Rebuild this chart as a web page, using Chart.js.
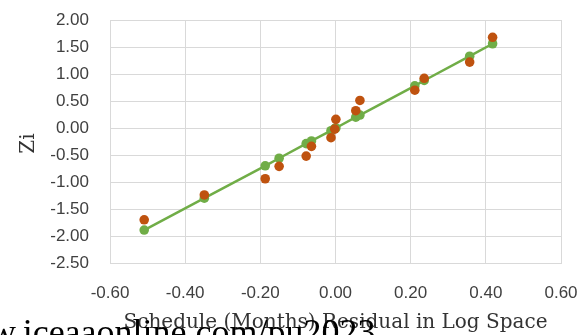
<!DOCTYPE html>
<html>
<head>
<meta charset="utf-8">
<script src="https://cdn.jsdelivr.net/npm/chart.js@4"></script>
<style>
  html, body { margin: 0; padding: 0; background: #ffffff; }
  #wrap { position: relative; width: 581px; height: 335px; overflow: hidden; }
  canvas { display: block; }
</style>
</head>
<body>
<div id="wrap"><canvas id="c" width="581" height="335"></canvas></div>
<script>
// Schedule (Months) residuals in log space (x), shared by both series
const residuals = [-0.509, -0.349, -0.187, -0.150, -0.078, -0.064, -0.012, -0.002, 0.001, 0.054, 0.065, 0.211, 0.236, 0.357, 0.418];
// Observed Zi (orange markers)
const observedZi = [-1.70, -1.24, -0.94, -0.71, -0.52, -0.34, -0.18, -0.02, 0.16, 0.32, 0.51, 0.70, 0.92, 1.22, 1.68];
// Fitted Zi (green line with markers)
const fittedZi = [-1.89, -1.30, -0.70, -0.56, -0.29, -0.24, -0.05, -0.01, 0.00, 0.20, 0.24, 0.78, 0.88, 1.33, 1.56];
// Axis ticks
const xTicks = [-0.60, -0.40, -0.20, 0.00, 0.20, 0.40, 0.60];
const yTicks = [-2.50, -2.00, -1.50, -1.00, -0.50, 0.00, 0.50, 1.00, 1.50, 2.00];
const xTitle = 'Schedule (Months) Residual in Log Space';
const yTitle = 'Zi';
const watermark = 'www.iceaaonline.com/pu2023';

const toPts = (xs, ys) => xs.map((x, i) => ({x: x, y: ys[i]}));

const textPlugin = {
  id: 'texts',
  afterDraw(chart) {
    const ctx = chart.ctx;
    const a = chart.chartArea;
    ctx.save();
    ctx.fillStyle = '#333333';
    ctx.font = '20px "DejaVu Serif"';
    ctx.textAlign = 'center';
    ctx.textBaseline = 'alphabetic';
    ctx.fillText(xTitle, (a.left + a.right) / 2, 328);
    ctx.translate(34, (a.top + a.bottom) / 2 + 2);
    ctx.rotate(-Math.PI / 2);
    ctx.fillText(yTitle, 0, 0);
    ctx.restore();
    ctx.save();
    ctx.fillStyle = '#000000';
    ctx.font = '36px "Liberation Serif"';
    ctx.textAlign = 'left';
    ctx.textBaseline = 'alphabetic';
    ctx.fillText(watermark, -62, 344);
    ctx.restore();
  }
};

const fmt = v => (Math.abs(v) < 1e-9 ? 0 : v).toFixed(2);

new Chart(document.getElementById('c'), {
  type: 'scatter',
  data: {
    datasets: [
      {
        label: 'Observed',
        data: toPts(residuals, observedZi),
        backgroundColor: '#BF520F',
        borderColor: '#BF520F',
        pointRadius: 4.8,
        pointBorderWidth: 0,
        showLine: false,
        order: 0
      },
      {
        label: 'Fitted',
        data: toPts(residuals, fittedZi),
        backgroundColor: '#70AD47',
        borderColor: '#70AD47',
        pointBackgroundColor: '#70AD47',
        pointBorderColor: '#70AD47',
        pointRadius: 4.8,
        pointBorderWidth: 0,
        borderWidth: 2.5,
        showLine: true,
        order: 1
      }
    ]
  },
  options: {
    responsive: false,
    animation: false,
    devicePixelRatio: 1,
    layout: { padding: { left: 0, right: 20, top: 20, bottom: 0 } },
    plugins: { legend: { display: false }, tooltip: { enabled: false } },
    scales: {
      x: {
        type: 'linear',
        min: xTicks[0],
        max: xTicks[xTicks.length - 1],
        afterBuildTicks: s => { s.ticks = xTicks.map(v => ({value: v})); },
        afterFit: s => { s.height = 72; s.paddingLeft = 0; s.paddingRight = 0; },
        grid: { color: '#D9D9D9', lineWidth: 1, drawTicks: false },
        border: { color: '#D9D9D9', width: 1 },
        ticks: {
          padding: 20,
          color: '#404040',
          font: { family: '"Liberation Sans"', size: 17 },
          callback: v => fmt(v),
          maxRotation: 0
        }
      },
      y: {
        type: 'linear',
        min: yTicks[0],
        max: yTicks[yTicks.length - 1],
        afterBuildTicks: s => { s.ticks = yTicks.map(v => ({value: v})); },
        afterFit: s => { s.width = 110; s.paddingTop = 0; s.paddingBottom = 0; },
        grid: { color: '#D9D9D9', lineWidth: 1, drawTicks: false },
        border: { color: '#D9D9D9', width: 1 },
        ticks: {
          padding: 21,
          color: '#404040',
          font: { family: '"Liberation Sans"', size: 17 },
          callback: v => fmt(v)
        }
      }
    }
  },
  plugins: [textPlugin]
});
</script>
</body>
</html>
